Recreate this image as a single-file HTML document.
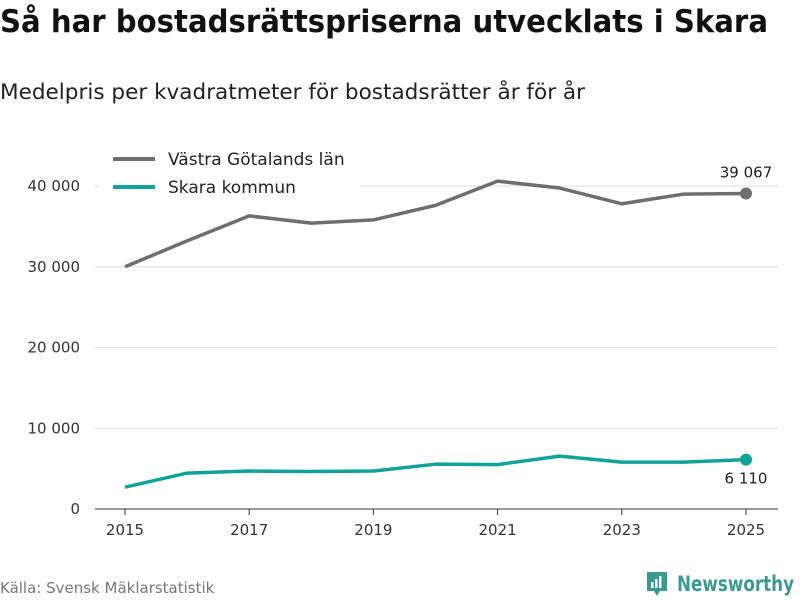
<!DOCTYPE html>
<html><head><meta charset="utf-8"><style>
body{margin:0;width:800px;height:600px;background:#fff;font-family:"DejaVu Sans","Liberation Sans",sans-serif;overflow:hidden;position:relative}
h1{position:absolute;left:0;top:4px;margin:0;font-size:31px;font-weight:bold;color:#111;white-space:nowrap;transform-origin:0 0}
.sub{position:absolute;left:0;top:80px;font-size:21px;color:#222;white-space:nowrap;transform-origin:0 0}
.src{position:absolute;left:0;top:579px;font-size:15px;color:#777;white-space:nowrap}
.logo{position:absolute;left:645px;top:570px;display:flex;align-items:center;color:#3a9a8f;font-size:21px;font-weight:bold;white-space:nowrap}
#lt{display:inline-block;transform-origin:0 50%}
</style></head><body>
<h1 id="t">Så har bostadsrättspriserna utvecklats i Skara</h1>
<div id="s" class="sub">Medelpris per kvadratmeter för bostadsrätter år för år</div>
<svg id="c" width="800" height="600" style="position:absolute;left:0;top:0"></svg>
<div class="src">Källa: Svensk Mäklarstatistik</div>
<div class="logo"><svg width="24" height="28" viewBox="0 0 24 28" style="margin-right:8px"><path d="M2 2h20v19h-7l-3 5-3-5H2z" fill="#3a9a8f"/><rect x="6" y="12" width="2.5" height="6" fill="#fff"/><rect x="10" y="9" width="2.5" height="9" fill="#fff"/><rect x="14" y="6" width="2.5" height="12" fill="#fff"/></svg><span id="lt">Newsworthy</span></div>
<script>
const years=[2015,2016,2017,2018,2019,2020,2021,2022,2023,2024,2025];
const vastra=[30000,33200,36300,35400,35800,37600,40600,39750,37800,39000,39067];
const skara=[2700,4450,4700,4650,4700,5550,5500,6550,5800,5800,6110];
const yTicks=[0,10000,20000,30000,40000];
const xTicks=[2015,2017,2019,2021,2023,2025];
function fit(id,w){const e=document.getElementById(id);const r=e.getBoundingClientRect().width;e.style.transform='scaleX('+(w/r)+')';}
fit('t',768);fit('s',585);fit('lt',117);
const NS="http://www.w3.org/2000/svg",svg=document.getElementById('c');
const x=v=>125+(v-2015)*(746-125)/10, y=v=>509-v*(509-186)/40000;
const fmt=v=>String(v).replace(/\B(?=(\d{3})+(?!\d))/g,' ');
function el(t,a,txt){const e=document.createElementNS(NS,t);for(const k in a)e.setAttribute(k,a[k]);if(txt!=null)e.textContent=txt;svg.appendChild(e);return e;}
yTicks.forEach(v=>{
 const g=el('line',{x1:95,x2:778,y1:y(v),y2:y(v),stroke:v?'#ddd':'#333','stroke-width':1});
 
 
 const t=el('text',{x:80,y:y(v)+5,'text-anchor':'end','font-size':15,fill:'#333'},v?fmt(v):'0');
 
 
});
xTicks.forEach(v=>{
 const l=el('line',{x1:x(v),x2:x(v),y1:509,y2:515,stroke:'#333'});
 
 
 const t=el('text',{x:x(v),y:535,'text-anchor':'middle','font-size':15,fill:'#333'},v);
 
 
});
el('rect',{x:100,y:145,width:260,height:60,fill:'#fff'});
function series(d,c,name,ly){
 const p=el('polyline',{points:d.map((v,i)=>x(years[i])+','+y(v)).join(' '),fill:'none',stroke:c,'stroke-width':3.5,'stroke-linejoin':'round'});
 
 
 const n=d.length-1;
 const dot=el('circle',{cx:x(years[n]),cy:y(d[n]),r:6,fill:c});
 
 
 const t=el('text',{x:x(years[n]),y:y(d[n])+ly,'text-anchor':'middle','font-size':15,fill:'#222'},fmt(d[n]));
 
 
}
series(vastra,'#6e6d72','vastra',-16);
series(skara,'#10a39a','skara',24);
[['Västra Götalands län','#6e6d72',159],['Skara kommun','#10a39a',187]].forEach(([n,c,yy])=>{
 const l=el('line',{x1:113,x2:155,y1:yy,y2:yy,stroke:c,'stroke-width':4});
 
 
 const t=el('text',{x:168,y:yy+6,'font-size':17,fill:'#222'},n);
 
 
});
</script>
</body></html>
